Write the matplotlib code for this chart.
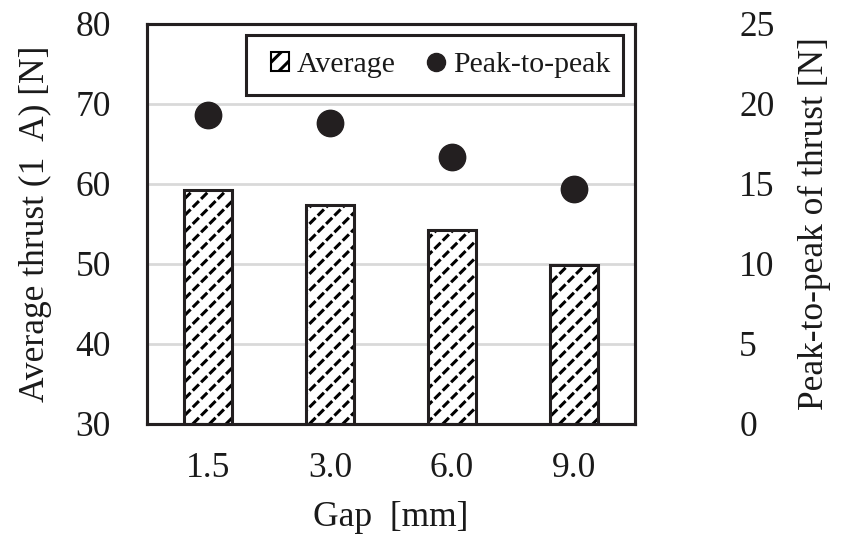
import matplotlib
matplotlib.use("Agg")
import matplotlib.pyplot as plt
from matplotlib.patches import Patch, Rectangle
from matplotlib.lines import Line2D
import numpy as np

plt.rcParams['font.family'] = ['Liberation Serif', 'DejaVu Serif']
plt.rcParams['hatch.linewidth'] = 2.2

gaps = ["1.5", "3.0", "6.0", "9.0"]
average_thrust = [59.2, 57.4, 54.2, 49.9]
peak_to_peak = [19.3, 18.8, 16.7, 14.7]
left_ticks = [30, 40, 50, 60, 70, 80]
right_ticks = [0, 5, 10, 15, 20, 25]

ink = '#231f20'
txt = '#1a1a1a'
fs = 25.5
legend_fs = 21.5

fig = plt.figure(figsize=(8.42, 5.35), dpi=100)
ax = fig.add_axes([147 / 842, 1 - 424 / 535, 488 / 842, 400 / 535])
ax2 = ax.twinx()

x = np.arange(len(gaps))
w = 0.39
base = 30

heights = [v - base for v in average_thrust]
# hatched fill: black diagonals, broken by white cross-diagonals
ax.bar(x, heights, w, bottom=base, facecolor='white', edgecolor='black',
       hatch='//', linewidth=0, zorder=2)
ax.bar(x, heights, w, bottom=base, facecolor='none', edgecolor='white',
       hatch='\\\\', linewidth=0, zorder=3)
ax.bar(x, heights, w, bottom=base, facecolor='none', edgecolor=ink,
       linewidth=2.2, zorder=4)

ax.set_ylim(30, 80)
ax.set_yticks(left_ticks)
ax.set_xlim(-0.5, len(gaps) - 0.5)
ax.set_xticks(x)
ax.set_xticklabels(gaps)
ax.yaxis.grid(True, color='#d9d9d9', linewidth=2)
ax.set_axisbelow(True)

ax2.plot(x, peak_to_peak, 'o', color=ink, markersize=19, zorder=5)
ax2.set_ylim(0, 25)
ax2.set_yticks(right_ticks)

for a in (ax, ax2):
    a.tick_params(length=0, labelsize=fs, colors=txt)
    for s in a.spines.values():
        s.set_color(ink)
        s.set_linewidth(2.2)

ax.tick_params(axis='x', pad=20)
ax.tick_params(axis='y', pad=26)
ax2.tick_params(axis='y', pad=75)
ax.set_xlabel("Gap  [mm]", fontsize=fs, color=txt, labelpad=12)
ax.set_ylabel("Average thrust (1  A) [N]", fontsize=fs, color=txt, labelpad=17)
ax2.set_ylabel("Peak-to-peak of thrust [N]", fontsize=fs, color=txt, labelpad=17)

# legend box
frame = Rectangle((0.203, 0.8225), 0.975 - 0.203, 0.9725 - 0.8225,
                  transform=ax2.transAxes, facecolor='white', edgecolor=ink,
                  linewidth=2.2, zorder=9)
ax2.add_patch(frame)
handles = [
    Patch(facecolor='white', edgecolor='black', hatch='//', linewidth=1.5),
    Line2D([], [], marker='o', linestyle='none', color=ink, markersize=13),
]
leg = ax2.legend(handles, ["Average", "Peak-to-peak"], ncol=2, fontsize=legend_fs,
                 loc='center', bbox_to_anchor=(0.601, 0.8975),
                 frameon=False, labelcolor=txt,
                 handlelength=0.62, handleheight=0.62, handletextpad=0.25,
                 columnspacing=1.05, borderpad=0, borderaxespad=0)
leg.set_zorder(10)

fig.savefig("out.png", dpi=100)
